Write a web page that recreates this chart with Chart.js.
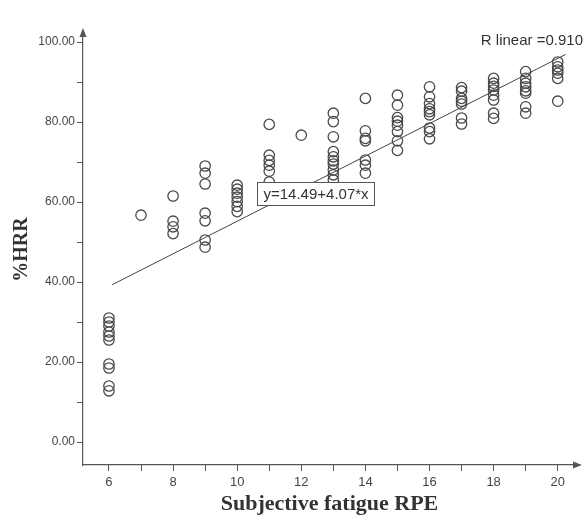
<!DOCTYPE html>
<html>
<head>
<meta charset="utf-8">
<title>%HRR vs Subjective fatigue RPE</title>
<script src="https://cdn.jsdelivr.net/npm/chart.js@4.4.1/dist/chart.umd.min.js"></script>
<style>
    html, body { margin: 0; padding: 0; background: #ffffff; }
    #wrap { width: 584px; height: 521px; }
</style>
</head>
<body>
<div id="wrap"><canvas id="myChart" width="584" height="521"></canvas></div>
<script>
// RPE levels (x) and the %HRR readings observed at each level
const rpeLevels = [6, 7, 8, 9, 10, 11, 12, 13, 14, 15, 16, 17, 18, 19, 20];
const hrr6 = [31, 30, 29, 27.5, 26.5, 25.5, 19.5, 18.5, 14, 12.8];
const hrr7 = [56.7];
const hrr8 = [61.5, 55.2, 53.8, 52.1];
const hrr9 = [69, 67.2, 64.5, 57.2, 55.3, 50.5, 48.7];
const hrr10 = [64.2, 63.2, 62.2, 61.2, 60.1, 58.9, 57.6];
const hrr11 = [79.4, 71.7, 70.4, 69.2, 67.7, 65];
const hrr12 = [76.7];
const hrr13 = [82.2, 80.1, 76.3, 72.6, 71.3, 70.3, 69.5, 68, 66.8, 65.5];
const hrr14 = [85.9, 77.8, 75.9, 75.3, 70.5, 69.2, 67.2];
const hrr15 = [86.7, 84.2, 81.1, 80.2, 79.2, 77.6, 75.3, 72.9];
const hrr16 = [88.8, 86.3, 84.6, 83.3, 82.6, 81.8, 78.5, 77.6, 75.8];
const hrr17 = [88.6, 87.7, 85.9, 85.2, 84.5, 81, 79.5];
const hrr18 = [90.9, 89.7, 88.9, 88, 86.7, 85.5, 82.2, 80.9];
const hrr19 = [92.6, 90.9, 89.7, 88.8, 87.8, 87.2, 83.8, 82.2];
const hrr20 = [95, 93.8, 93, 92.2, 90.9, 85.2];
const hrrColumns = [hrr6, hrr7, hrr8, hrr9, hrr10, hrr11, hrr12, hrr13, hrr14, hrr15, hrr16, hrr17, hrr18, hrr19, hrr20];

// linear fit as printed on the chart
const fitIntercept = 14.49;
const fitSlope = 4.07;
const fitLabel = 'y=14.49+4.07*x';
const rLabel = 'R linear =0.910';
const fitRange = [6.1, 20.25];

// axis ticks
const xTickLabels = [6, 8, 10, 12, 14, 16, 18, 20];
const xAllTicks = [6, 7, 8, 9, 10, 11, 12, 13, 14, 15, 16, 17, 18, 19, 20];
const yTickLabels = [0, 20, 40, 60, 80, 100];
const yAllTicks = [0, 10, 20, 30, 40, 50, 60, 70, 80, 90, 100];

const points = [];
rpeLevels.forEach((rpe, i) =>
{
    hrrColumns[i].forEach(v => points.push({ x: rpe, y: v }));
});
const fitLine = fitRange.map(x => ({ x: x, y: fitIntercept + fitSlope * x }));

const axisColor = '#555555';
const textColor = '#444444';

const axisArrows = {
    id: 'axisArrows',
    afterDraw(chart)
    {
        const { ctx, chartArea } = chart;
        const { left, top, right, bottom } = chartArea;
        ctx.save();
        ctx.fillStyle = axisColor;
        ctx.beginPath();
        ctx.moveTo(left, top - 6);
        ctx.lineTo(left - 3.5, top + 3);
        ctx.lineTo(left + 3.5, top + 3);
        ctx.closePath();
        ctx.fill();
        ctx.beginPath();
        ctx.moveTo(right + 6, bottom);
        ctx.lineTo(right - 3, bottom - 3.5);
        ctx.lineTo(right - 3, bottom + 3.5);
        ctx.closePath();
        ctx.fill();
        ctx.restore();
    }
};

const fitLabels = {
    id: 'fitLabels',
    afterDatasetsDraw(chart)
    {
        const { ctx } = chart;
        const xs = chart.scales.x;
        const ys = chart.scales.y;
        ctx.save();
        ctx.font = '15px "Liberation Sans", Arial, sans-serif';
        ctx.textBaseline = 'middle';

        // equation box
        const boxLeft = Math.round(xs.getPixelForValue(10.62)) + 0.5;
        const boxTop = Math.round(ys.getPixelForValue(65)) + 0.5;
        const boxW = Math.round(ctx.measureText(fitLabel).width) + 12;
        const boxH = 23;
        ctx.fillStyle = '#ffffff';
        ctx.fillRect(boxLeft, boxTop, boxW, boxH);
        ctx.strokeStyle = axisColor;
        ctx.lineWidth = 1;
        ctx.strokeRect(boxLeft, boxTop, boxW, boxH);
        ctx.fillStyle = '#333333';
        ctx.textAlign = 'left';
        ctx.fillText(fitLabel, boxLeft + 6, boxTop + boxH / 2 + 1);

        // R label at top right
        ctx.textAlign = 'right';
        ctx.fillText(rLabel, 583, 41);
        ctx.restore();
    }
};

const ctx = document.getElementById('myChart').getContext('2d');
new Chart(ctx, {
    type: 'scatter',
    data: {
        datasets: [
            {
                type: 'line',
                data: fitLine,
                borderColor: '#444444',
                borderWidth: 1,
                pointRadius: 0,
                fill: false,
                order: 1
            },
            {
                data: points,
                pointStyle: 'circle',
                pointRadius: 5.2,
                pointBorderWidth: 1.3,
                pointBorderColor: '#4a4a4a',
                pointBackgroundColor: 'rgba(0,0,0,0)',
                order: 0
            }
        ]
    },
    options: {
        responsive: false,
        animation: false,
        devicePixelRatio: 1,
        layout: {
            padding: { top: 34, right: 8, bottom: 0, left: 0 }
        },
        plugins: {
            legend: { display: false },
            tooltip: { enabled: false }
        },
        scales: {
            x: {
                type: 'linear',
                min: 5.19,
                max: 20.57,
                afterBuildTicks: scale =>
                {
                    scale.ticks = xAllTicks.map(v => ({ value: v }));
                },
                afterFit: scale =>
                {
                    scale.height = 56;
                },
                ticks: {
                    autoSkip: false,
                    maxRotation: 0,
                    padding: 4,
                    color: textColor,
                    font: { family: 'Liberation Sans', size: 13 },
                    callback: value => xTickLabels.includes(value) ? String(value) : ''
                },
                grid: {
                    display: true,
                    drawOnChartArea: false,
                    drawTicks: true,
                    tickLength: 6,
                    tickColor: axisColor
                },
                border: { display: true, color: axisColor, width: 1.2 },
                title: {
                    display: true,
                    text: 'Subjective fatigue RPE',
                    color: '#333333',
                    font: { family: 'Liberation Serif', size: 22, weight: 'bold' },
                    padding: { top: 0, bottom: 3 }
                }
            },
            y: {
                type: 'linear',
                min: -5.75,
                max: 102,
                afterBuildTicks: scale =>
                {
                    scale.ticks = yAllTicks.map(v => ({ value: v }));
                },
                afterFit: scale =>
                {
                    scale.width = 83;
                },
                ticks: {
                    autoSkip: false,
                    padding: 2,
                    color: textColor,
                    font: { family: 'Liberation Sans', size: 12 },
                    callback: value => yTickLabels.includes(value) ? value.toFixed(2) : ''
                },
                grid: {
                    display: true,
                    drawOnChartArea: false,
                    drawTicks: true,
                    tickLength: 6,
                    tickColor: axisColor
                },
                border: { display: true, color: axisColor, width: 1.2 },
                title: {
                    display: true,
                    text: '%HRR',
                    color: '#333333',
                    font: { family: 'Liberation Serif', size: 20, weight: 'bold' },
                    padding: { top: 10, bottom: 0 }
                }
            }
        }
    },
    plugins: [fitLabels, axisArrows]
});
</script>
</body>
</html>
